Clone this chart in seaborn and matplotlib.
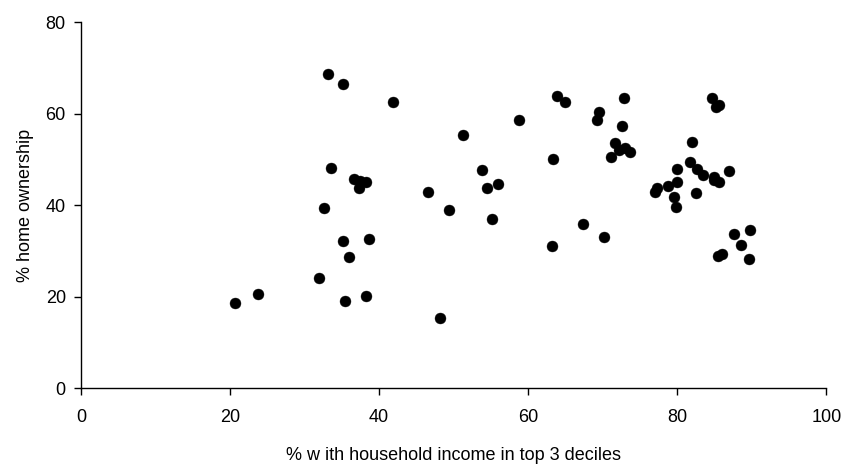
import numpy as np
import pandas as pd
import matplotlib
matplotlib.use("Agg")
import matplotlib.pyplot as plt
import seaborn as sns

# % with household income in top 3 deciles
income_top3 = [20.7, 23.8, 31.9, 32.6, 33.2, 33.6, 35.1, 35.1, 35.4, 35.9,
               36.6, 37.4, 37.3, 38.3, 38.6, 38.3, 41.8, 46.6, 48.2, 49.4,
               51.3, 53.8, 54.5, 55.2, 56.0, 58.7, 63.2, 63.3, 63.8, 65.0,
               67.3, 69.2, 69.5, 70.2, 71.1, 71.6, 72.2, 73.0, 73.7, 72.6,
               72.9, 77.0, 77.3, 78.8, 79.5, 79.8, 80.0, 80.0, 81.7, 82.0,
               82.5, 82.7, 83.4, 84.7, 84.9, 84.9, 85.2, 85.6, 85.6, 85.4,
               86.0, 86.9, 87.6, 88.6, 89.6, 89.8]

# % home ownership
home_own = [18.6, 20.6, 24.2, 39.4, 68.6, 48.2, 66.5, 32.2, 19.0, 28.6,
            45.7, 45.3, 43.8, 45.0, 32.6, 20.2, 62.6, 42.9, 15.4, 39.0,
            55.4, 47.7, 43.7, 37.0, 44.6, 58.6, 31.0, 50.1, 63.8, 62.6,
            35.8, 58.6, 60.3, 33.0, 50.6, 53.5, 52.0, 52.5, 51.6, 57.3,
            63.4, 42.9, 43.8, 44.2, 41.8, 39.7, 45.0, 47.8, 49.4, 53.8,
            42.6, 47.8, 46.6, 63.4, 46.2, 45.5, 61.4, 61.8, 45.0, 29.0,
            29.3, 47.4, 33.8, 31.4, 28.2, 34.6]

x_ticks = [0, 20, 40, 60, 80, 100]
y_ticks = [0, 20, 40, 60, 80]

df = pd.DataFrame({"income": income_top3, "own": home_own})

sns.set_style("ticks")
plt.rcParams["font.family"] = ["Liberation Sans", "DejaVu Sans"]

fig = plt.figure(figsize=(8.45, 4.66), dpi=100)
ax = fig.add_axes([0.0959, 0.1667, 0.882, 0.786])

sns.scatterplot(data=df, x="income", y="own", ax=ax, color="black",
                s=62, edgecolor="black", linewidth=0.3, legend=False)

ax.set_xlim(0, 100)
ax.set_ylim(0, 80)
ax.set_xticks(x_ticks)
ax.set_yticks(y_ticks)
ax.tick_params(axis="both", direction="out", length=5, width=1,
               labelsize=13, colors="black", pad=6)
ax.tick_params(axis="x", pad=10)
for side in ["top", "right"]:
    ax.spines[side].set_visible(False)
for side in ["left", "bottom"]:
    ax.spines[side].set_color("black")
    ax.spines[side].set_linewidth(1)

ax.set_xlabel("% w ith household income in top 3 deciles", fontsize=13,
              labelpad=15, color="black")
ax.set_ylabel("% home ownership", fontsize=13, labelpad=8, color="black")

fig.savefig("out.png", dpi=100)
